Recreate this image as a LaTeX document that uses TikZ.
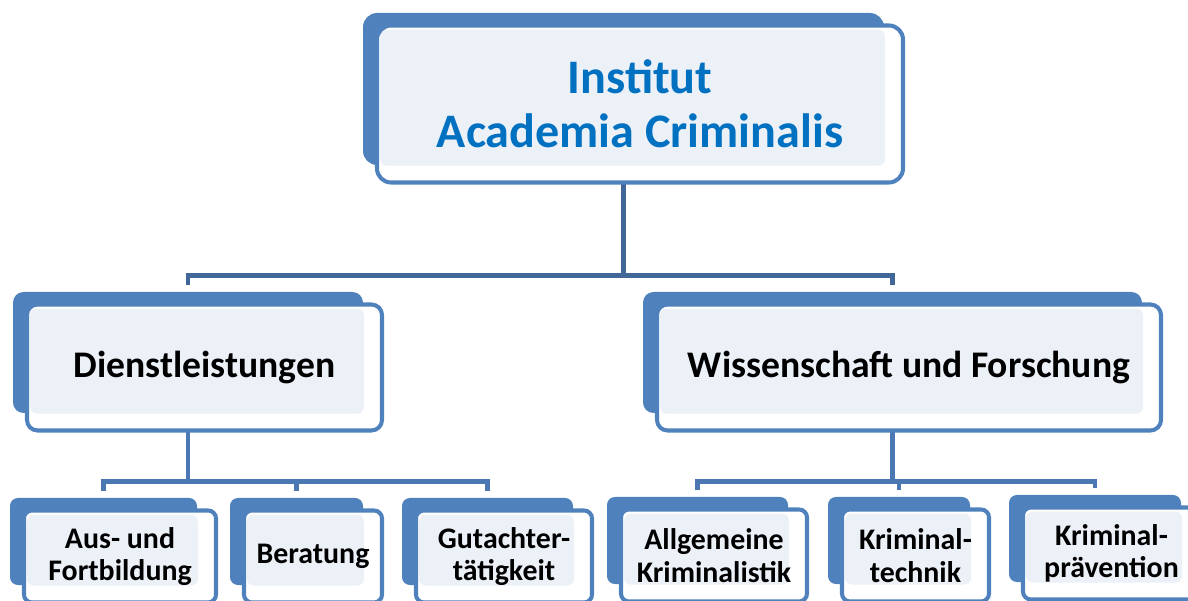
\documentclass[tikz,border=0pt]{standalone}
\usepackage{fontspec}
\setmainfont{Carlito}
\definecolor{boxblue}{RGB}{79,129,189}
\definecolor{boxlight}{RGB}{236,241,248}
\definecolor{linedark}{RGB}{65,103,152}
\definecolor{linelight}{RGB}{75,119,178}
\definecolor{titleblue}{RGB}{0,112,192}
\newdimen\px \px=0.02cm
\tikzset{%
  backbox/.style  = {shape=rectangle, rounded corners=6pt, fill=boxblue, inner sep=0pt},%
  frontbox/.style = {shape=rectangle, rounded corners=6pt,%
                     draw=boxblue, line width=2.3pt, fill=white,%
                     align=center, inner sep=0pt,%
                     path picture={\fill[boxlight, rounded corners=4pt]
                       ([shift={(1.7pt,-2.3pt)}]path picture bounding box.north west) rectangle
                       ([shift={(-10.2pt,9.6pt)}]path picture bounding box.south east);}},%
  toptext/.style  = {frontbox, rounded corners=8pt, text=titleblue,%
                     font=\fontsize{27.4}{30.5}\selectfont\bfseries},%
  midtext/.style  = {frontbox, font=\fontsize{21.4}{24}\selectfont\bfseries},%
  leaftext/.style = {frontbox, rounded corners=4.5pt,%
                     font=\fontsize{17}{18.4}\selectfont\bfseries},%
  leafback/.style = {backbox, rounded corners=4.5pt, minimum height=87\px},%
  conn/.style     = {draw=linedark, line width=2.6pt, shorten >=7\px},%
  subconn/.style  = {conn, draw=linelight}%
}
\begin{document}
\begin{tikzpicture}[x=0.02cm, y=-0.02cm]
  \useasboundingbox (0,0) rectangle (1188,601);
  % back boxes
  \node[backbox, rounded corners=8pt, minimum width=521\px, minimum height=152\px] (rootB) at (623.5,89) {};
  \node[backbox, minimum width=350\px, minimum height=121\px] (dienstB) at (188,352.5) {};
  \node[backbox, minimum width=499\px, minimum height=121\px] (wissB) at (892.5,352.5) {};
  \node[leafback, minimum width=187\px] (ausB) at (103.5,541.5) {};
  \node[leafback, minimum width=133\px] (beratB) at (296.5,541.5) {};
  \node[leafback, minimum width=171\px] (gutachtB) at (487.5,541.5) {};
  \node[leafback, minimum width=181\px] (allgB) at (697.5,540.5) {};
  \node[leafback, minimum width=142\px] (technikB) at (899,540.5) {};
  \node[leafback, minimum width=172\px] (praevB) at (1095,538.5) {};
  % connectors
  \draw[conn] (rootB.south) -- ++(0,110) -| (dienstB.north);
  \draw[conn] (rootB.south) -- ++(0,110) -| (wissB.north);
  \draw[subconn] (dienstB.south) -- ++(0,68) -| (ausB.north);
  \draw[subconn] (dienstB.south) -- ++(0,68) -| (beratB.north);
  \draw[subconn] (dienstB.south) -- ++(0,68) -| (gutachtB.north);
  \draw[subconn] (wissB.south) -- ++(0,68) -| (allgB.north);
  \draw[subconn] (wissB.south) -- ++(0,68) -| (technikB.north);
  \draw[subconn] (wissB.south) -- ++(0,68) -| (praevB.north);
  % front boxes
  \node[toptext, minimum width=526\px, minimum height=157\px] (root) at ([shift={(16.5,15)}]rootB.center) {Institut\\Academia Criminalis};
  \node[midtext, minimum width=355\px, minimum height=126\px] (dienst) at ([shift={(16.5,15)}]dienstB.center) {Dienstleistungen};
  \node[midtext, minimum width=504\px, minimum height=126\px] (wiss) at ([shift={(16.5,15)}]wissB.center) {Wissenschaft und Forschung};
  \node[leaftext, minimum width=192\px, minimum height=92\px] (aus) at ([shift={(16.5,15)}]ausB.center) {Aus- und\\Fortbildung};
  \node[leaftext, minimum width=138\px, minimum height=92\px] (berat) at ([shift={(16.5,15)}]beratB.center) {Beratung};
  \node[leaftext, minimum width=176\px, minimum height=92\px] (gutacht) at ([shift={(16.5,15)}]gutachtB.center) {Gutachter-\\tätigkeit};
  \node[leaftext, minimum width=186\px, minimum height=92\px] (allg) at ([shift={(16.5,15)}]allgB.center) {Allgemeine\\Kriminalistik};
  \node[leaftext, minimum width=147\px, minimum height=92\px] (technik) at ([shift={(16.5,15)}]technikB.center) {Kriminal-\\technik};
  \node[leaftext, minimum width=177\px, minimum height=92\px] (praev) at ([shift={(16.5,15)}]praevB.center) {Kriminal-\\prävention};
\end{tikzpicture}
\end{document}
